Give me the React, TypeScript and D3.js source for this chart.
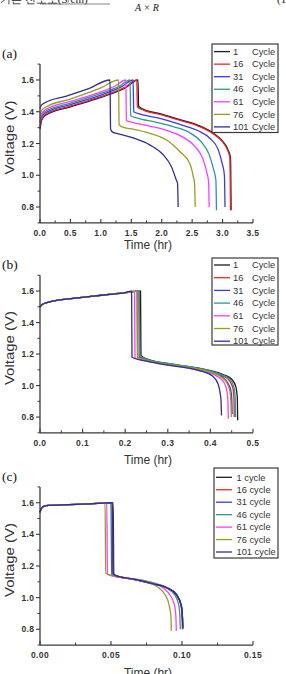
import React from "react";
import * as d3 from "d3";

// legend entries and line colours shared by the three panels
const cycleNames = ["1", "16", "31", "46", "61", "76", "101"];
const cycleColors = ["#1c1c1c", "#e8262c", "#3a3aec", "#2a9c8c", "#ff3cff", "#9c9c1c", "#2e2e98"];

// (a) time (hr) vs voltage (V)
const a1 = [[0, 1.29], [0.03, 1.35], [0.1, 1.38], [0.5, 1.43], [1.0, 1.49], [1.4, 1.55], [1.61, 1.6], [1.62, 1.435], [1.7, 1.415], [2.0, 1.385], [2.3, 1.35], [2.6, 1.315], [2.85, 1.265], [3.0, 1.215], [3.09, 1.16], [3.13, 1.11], [3.14, 0.78]];
const a16 = [[0, 1.31], [0.03, 1.355], [0.1, 1.385], [0.5, 1.435], [1.0, 1.495], [1.4, 1.555], [1.59, 1.6], [1.6, 1.43], [1.7, 1.41], [2.0, 1.38], [2.3, 1.345], [2.6, 1.31], [2.85, 1.26], [3.0, 1.21], [3.08, 1.16], [3.12, 1.11], [3.13, 0.78]];
const a31 = [[0, 1.33], [0.03, 1.37], [0.1, 1.395], [0.5, 1.445], [1.0, 1.505], [1.35, 1.56], [1.53, 1.6], [1.54, 1.4], [1.65, 1.385], [2.0, 1.355], [2.3, 1.32], [2.6, 1.28], [2.8, 1.23], [2.93, 1.16], [2.99, 1.08], [3.03, 1.0], [3.04, 0.8]];
const a46 = [[0, 1.34], [0.03, 1.38], [0.1, 1.405], [0.5, 1.455], [1.0, 1.515], [1.3, 1.56], [1.48, 1.6], [1.49, 1.375], [1.6, 1.36], [1.9, 1.335], [2.2, 1.305], [2.45, 1.27], [2.65, 1.21], [2.78, 1.13], [2.85, 1.04], [2.89, 0.97], [2.9, 0.78]];
const a61 = [[0, 1.36], [0.03, 1.39], [0.1, 1.415], [0.5, 1.465], [1.0, 1.525], [1.25, 1.565], [1.41, 1.6], [1.42, 1.345], [1.5, 1.335], [1.8, 1.31], [2.1, 1.28], [2.35, 1.24], [2.55, 1.18], [2.68, 1.1], [2.74, 1.02], [2.77, 0.96], [2.78, 0.8]];
const a76 = [[0, 1.38], [0.03, 1.41], [0.1, 1.43], [0.5, 1.48], [1.0, 1.55], [1.29, 1.6], [1.3, 1.317], [1.35, 1.305], [1.53, 1.29], [1.81, 1.264], [2.08, 1.222], [2.3, 1.148], [2.46, 1.075], [2.52, 0.99], [2.54, 0.95], [2.55, 0.8]];
const a101 = [[0, 1.42], [0.02, 1.44], [0.1, 1.46], [0.4, 1.495], [0.8, 1.545], [1.15, 1.6], [1.16, 1.29], [1.2, 1.27], [1.26, 1.264], [1.53, 1.235], [1.81, 1.19], [2.03, 1.127], [2.16, 1.054], [2.24, 0.97], [2.26, 0.95], [2.27, 0.8]];

// (b)
const b1 = [[0, 1.5], [0.005, 1.515], [0.02, 1.53], [0.05, 1.545], [0.1, 1.56], [0.15, 1.575], [0.2, 1.59], [0.236, 1.6], [0.237, 1.19], [0.25, 1.17], [0.3, 1.14], [0.35, 1.12], [0.4, 1.095], [0.43, 1.07], [0.45, 1.04], [0.46, 0.99], [0.463, 0.93], [0.464, 0.78]];
const b16 = [[0, 1.5], [0.005, 1.515], [0.02, 1.53], [0.05, 1.545], [0.1, 1.56], [0.15, 1.575], [0.2, 1.59], [0.232, 1.6], [0.233, 1.185], [0.25, 1.165], [0.3, 1.137], [0.35, 1.117], [0.4, 1.09], [0.43, 1.06], [0.445, 1.03], [0.453, 0.98], [0.455, 0.93], [0.456, 0.8]];
const b31 = [[0, 1.5], [0.005, 1.515], [0.02, 1.53], [0.05, 1.545], [0.1, 1.56], [0.15, 1.575], [0.2, 1.59], [0.228, 1.6], [0.229, 1.18], [0.25, 1.16], [0.3, 1.135], [0.35, 1.115], [0.4, 1.085], [0.425, 1.06], [0.44, 1.02], [0.448, 0.97], [0.45, 0.92], [0.451, 0.82]];
const b46 = [[0, 1.5], [0.005, 1.515], [0.02, 1.53], [0.05, 1.545], [0.1, 1.56], [0.15, 1.575], [0.2, 1.59], [0.233, 1.6], [0.234, 1.19], [0.25, 1.168], [0.3, 1.14], [0.35, 1.12], [0.4, 1.093], [0.43, 1.065], [0.448, 1.035], [0.456, 0.98], [0.458, 0.93], [0.459, 0.8]];
const b61 = [[0, 1.5], [0.005, 1.515], [0.02, 1.53], [0.05, 1.545], [0.1, 1.56], [0.15, 1.575], [0.2, 1.59], [0.222, 1.6], [0.223, 1.175], [0.25, 1.155], [0.3, 1.13], [0.35, 1.11], [0.39, 1.085], [0.415, 1.06], [0.432, 1.02], [0.439, 0.96], [0.441, 0.91], [0.442, 0.79]];
const b76 = [[0, 1.5], [0.005, 1.515], [0.02, 1.53], [0.05, 1.545], [0.1, 1.56], [0.15, 1.575], [0.2, 1.59], [0.228, 1.6], [0.229, 1.18], [0.25, 1.16], [0.3, 1.135], [0.35, 1.115], [0.4, 1.085], [0.425, 1.055], [0.44, 1.01], [0.446, 0.96], [0.448, 0.9], [0.449, 0.8]];
const b101 = [[0, 1.5], [0.005, 1.515], [0.02, 1.53], [0.05, 1.545], [0.1, 1.56], [0.15, 1.575], [0.2, 1.59], [0.215, 1.6], [0.216, 1.18], [0.25, 1.155], [0.3, 1.13], [0.35, 1.11], [0.38, 1.09], [0.405, 1.06], [0.418, 1.01], [0.423, 0.95], [0.425, 0.9], [0.426, 0.81]];

// (c)
const c1 = [[0, 1.54], [0.001, 1.565], [0.003, 1.578], [0.006, 1.583], [0.02, 1.588], [0.035, 1.593], [0.0515, 1.6], [0.052, 1.15], [0.054, 1.137], [0.066, 1.116], [0.08, 1.086], [0.089, 1.063], [0.0962, 1.017], [0.0995, 0.95], [0.1003, 0.88], [0.1006, 0.8]];
const c16 = [[0, 1.54], [0.001, 1.565], [0.003, 1.578], [0.006, 1.583], [0.02, 1.588], [0.035, 1.593], [0.051, 1.6], [0.0515, 1.15], [0.054, 1.136], [0.066, 1.115], [0.08, 1.085], [0.089, 1.062], [0.096, 1.015], [0.0993, 0.95], [0.1, 0.88], [0.1003, 0.8]];
const c31 = [[0, 1.54], [0.001, 1.565], [0.003, 1.578], [0.006, 1.583], [0.02, 1.588], [0.035, 1.593], [0.05, 1.6], [0.0505, 1.148], [0.054, 1.136], [0.066, 1.116], [0.08, 1.088], [0.089, 1.065], [0.0962, 1.02], [0.0995, 0.95], [0.1003, 0.88], [0.1006, 0.81]];
const c46 = [[0, 1.54], [0.001, 1.565], [0.003, 1.578], [0.006, 1.583], [0.02, 1.588], [0.035, 1.593], [0.0505, 1.6], [0.051, 1.145], [0.054, 1.135], [0.06, 1.125], [0.07, 1.113], [0.08, 1.093], [0.089, 1.062], [0.095, 1.015], [0.0978, 0.95], [0.0985, 0.88], [0.0988, 0.8]];
const c61 = [[0, 1.54], [0.001, 1.565], [0.003, 1.578], [0.006, 1.583], [0.02, 1.588], [0.035, 1.593], [0.047, 1.6], [0.0475, 1.15], [0.051, 1.137], [0.06, 1.123], [0.07, 1.11], [0.08, 1.09], [0.087, 1.06], [0.092, 1.01], [0.0948, 0.95], [0.0957, 0.88], [0.096, 0.79]];
const c76 = [[0, 1.54], [0.001, 1.565], [0.003, 1.578], [0.006, 1.583], [0.02, 1.588], [0.035, 1.593], [0.0458, 1.6], [0.0463, 1.155], [0.05, 1.14], [0.06, 1.125], [0.07, 1.11], [0.078, 1.09], [0.084, 1.06], [0.088, 1.02], [0.091, 0.95], [0.0922, 0.88], [0.0925, 0.79]];
const c101 = [[0, 1.54], [0.001, 1.565], [0.003, 1.578], [0.006, 1.583], [0.02, 1.588], [0.035, 1.593], [0.051, 1.6], [0.0515, 1.15], [0.054, 1.137], [0.066, 1.117], [0.08, 1.087], [0.089, 1.064], [0.0962, 1.018], [0.0995, 0.95], [0.1003, 0.88], [0.1006, 0.81]];

// ticks
const yTicks = [0.8, 1.0, 1.2, 1.4, 1.6];
const yMinor = [0.7, 0.9, 1.1, 1.3, 1.5, 1.7];
const xTicksA = [0, 0.5, 1.0, 1.5, 2.0, 2.5, 3.0, 3.5];
const xMinorA = [0.25, 0.75, 1.25, 1.75, 2.25, 2.75, 3.25];
const xTicksB = [0, 0.1, 0.2, 0.3, 0.4, 0.5];
const xMinorB = [0.05, 0.15, 0.25, 0.35, 0.45];
const xTicksC = [0, 0.05, 0.1, 0.15];
const xMinorC = [0.025, 0.075, 0.125];

const sans = "'Liberation Sans', Arial, sans-serif";
const serif = "'Liberation Serif', 'Times New Roman', serif";
const axisColor = "#3a3a3a";

type PanelProps = {
  label: string;
  series: number[][][];
  xDomain: [number, number];
  xTicks: number[];
  xMinor: number[];
  xFmt: string;
  yTop: number; // pixel of 1.7 V
  yBottom: number; // pixel of 0.7 V
  labelY: number;
  titleY: number;
  legend: { x0: number; x1: number; y0: number; y1: number; row0: number; step: number; lower: boolean };
};

const Panel = ({ label, series, xDomain, xTicks, xMinor, xFmt, yTop, yBottom, labelY, titleY, legend }: PanelProps) => {
  const x = d3.scaleLinear().domain(xDomain).range([40, 253]);
  const y = d3.scaleLinear().domain([0.7, 1.7]).range([yBottom, yTop]);
  const line = d3.line<number[]>().x(d => x(d[0])).y(d => y(d[1])).curve(d3.curveMonotoneX);
  const fx = d3.format(xFmt);
  const fy = d3.format(".1f");
  const x0 = x(xDomain[0]);
  const y0 = y(0.7);

  return (
    <g>
      <text x={2} y={labelY} fontFamily={serif} fontSize={13.5} fill="#111">{label}</text>

      {series.map((s, i) => (
        <path key={i} d={line(s) || ""} fill="none" stroke={cycleColors[i]} strokeWidth={1.3} />
      ))}

      {/* axes */}
      <line x1={x0} x2={x0} y1={y(1.7)} y2={y0} stroke={axisColor} strokeWidth={1.3} />
      <line x1={x0} x2={x(xDomain[1])} y1={y0} y2={y0} stroke={axisColor} strokeWidth={1.3} />
      {yTicks.map(t => (
        <g key={t}>
          <line x1={x0 - 4} x2={x0} y1={y(t)} y2={y(t)} stroke={axisColor} strokeWidth={1.1} />
          <text x={34.5} y={y(t) + 3} textAnchor="end" fontFamily={sans} fontSize={8.5} fontWeight="bold" letterSpacing={0.4} fill="#333">{fy(t)}</text>
        </g>
      ))}
      {yMinor.map(t => (
        <line key={t} x1={x0 - 2.5} x2={x0} y1={y(t)} y2={y(t)} stroke={axisColor} strokeWidth={1} />
      ))}
      {xTicks.map(t => (
        <g key={t}>
          <line x1={x(t)} x2={x(t)} y1={y0 - 4} y2={y0} stroke={axisColor} strokeWidth={1.1} />
          <text x={x(t)} y={y0 + 13} textAnchor="middle" fontFamily={sans} fontSize={8.5} fontWeight="bold" letterSpacing={0.4} fill="#333">{fx(t)}</text>
        </g>
      ))}
      {xMinor.map(t => (
        <line key={t} x1={x(t)} x2={x(t)} y1={y0 - 2.5} y2={y0} stroke={axisColor} strokeWidth={1} />
      ))}

      <text transform={`translate(14,${(y(1.7) + y0) / 2 - 6}) rotate(-90)`} textAnchor="middle" fontFamily={sans} fontSize={12.5} fill="#333" textLength={74} lengthAdjust="spacingAndGlyphs">Voltage (V)</text>
      <text x={148} y={titleY} textAnchor="middle" fontFamily={sans} fontSize={12} fill="#333">Time (hr)</text>

      {/* legend */}
      <rect x={legend.x0} y={legend.y0} width={legend.x1 - legend.x0} height={legend.y1 - legend.y0} fill="#fff" stroke={axisColor} strokeWidth={1.2} />
      {cycleNames.map((n, i) => {
        const ry = legend.row0 + i * legend.step;
        return (
          <g key={n}>
            <line x1={legend.x0 + 2} x2={legend.x0 + 18} y1={ry} y2={ry} stroke={cycleColors[i]} strokeWidth={1.3} />
            {legend.lower ? (
              <text x={legend.x0 + 22.5} y={ry + 3.2} fontFamily={sans} fontSize={9.3} fill="#333">{`${n} cycle`}</text>
            ) : (
              <>
                <text x={legend.x0 + 21} y={ry + 3.2} fontFamily={sans} fontSize={9.3} fill="#333">{n}</text>
                <text x={legend.x0 + 40} y={ry + 3.2} fontFamily={sans} fontSize={9.3} fill="#333">Cycle</text>
              </>
            )}
          </g>
        );
      })}
    </g>
  );
};

export default function App() {
  return (
    <svg width={286} height={674} style={{ position: "absolute", left: 0, top: 0, background: "#fff" }}>
      {/* tail of the equation above the figure */}
      <text x={0} y={3} fontFamily={serif} fontSize={11} fill="#222">기는 전도도(S/cm)</text>
      <line x1={40} x2={110} y1={4} y2={4} stroke="#333" strokeWidth={0.6} />
      <text x={135} y={10.5} fontFamily={serif} fontStyle="italic" fontSize={10} fill="#222">A × R</text>
      <text x={277} y={3} fontFamily={serif} fontSize={11} fill="#222">(1</text>

      <Panel
        label="(a)"
        series={[a1, a16, a31, a46, a61, a76, a101]}
        xDomain={[0, 3.5]}
        xTicks={xTicksA}
        xMinor={xMinorA}
        xFmt=".1f"
        yTop={64.1}
        yBottom={222.9}
        labelY={58}
        titleY={249}
        legend={{ x0: 212, x1: 278, y0: 44, y1: 132.5, row0: 51.6, step: 12.55, lower: false }}
      />
      <Panel
        label="(b)"
        series={[b1, b16, b31, b46, b61, b76, b101]}
        xDomain={[0, 0.5]}
        xTicks={xTicksB}
        xMinor={xMinorB}
        xFmt=".1f"
        yTop={275.3}
        yBottom={432.8}
        labelY={269}
        titleY={464}
        legend={{ x0: 212, x1: 278, y0: 258, y1: 345, row0: 265, step: 12.7, lower: false }}
      />
      <Panel
        label="(c)"
        series={[c1, c16, c31, c46, c61, c76, c101]}
        xDomain={[0, 0.15]}
        xTicks={xTicksC}
        xMinor={xMinorC}
        xFmt=".2f"
        yTop={486.9}
        yBottom={645.1}
        labelY={481}
        titleY={677}
        legend={{ x0: 214, x1: 278, y0: 468, y1: 558, row0: 477.3, step: 12.45, lower: true }}
      />
    </svg>
  );
}
